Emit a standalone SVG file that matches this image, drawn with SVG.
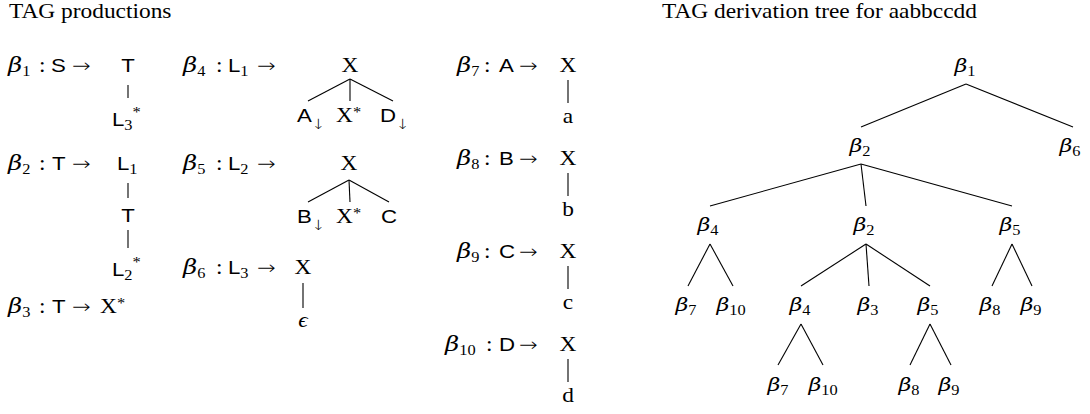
<svg xmlns="http://www.w3.org/2000/svg" width="1090" height="414" viewBox="0 0 1090 414">
<style>
text{fill:#000}
.t{font-family:"Liberation Serif","DejaVu Serif",serif;font-size:20px}
.s{font-family:"Liberation Sans",sans-serif;font-size:19px}
.b{font-family:"DejaVu Serif",serif;font-style:italic;font-size:19px}
.bl{font-family:"DejaVu Serif",serif;font-style:italic;font-size:21px}
.i{font-style:italic}
.sub{font-family:"Liberation Serif","DejaVu Serif",serif;font-size:14px;font-style:normal}
.sup{font-family:"Liberation Serif","DejaVu Serif",serif;font-size:14px;font-style:normal}
.da{font-family:"DejaVu Sans",sans-serif;font-size:14px;font-style:normal;font-weight:200}
.ar{font-family:"DejaVu Sans",sans-serif;font-size:19px;font-weight:200}
.m{text-anchor:middle}
#connectors line{stroke:#000;stroke-width:1.1}
</style>
<g id="titles">
<text class="t" transform="matrix(1.17 0 0 1 9 18)">TAG productions</text>
<text class="t" transform="matrix(1.17 0 0 1 662 18)">TAG derivation tree for aabbccdd</text>
</g>
<g id="connectors">
<line x1="128" y1="85" x2="128" y2="98"/>
<line x1="128" y1="183" x2="128" y2="198"/>
<line x1="128" y1="230" x2="128" y2="248"/>
<line x1="350" y1="79" x2="308" y2="101"/>
<line x1="350" y1="79" x2="350" y2="101"/>
<line x1="350" y1="79" x2="393" y2="101"/>
<line x1="349" y1="180" x2="308" y2="202"/>
<line x1="349" y1="180" x2="350" y2="202"/>
<line x1="349" y1="180" x2="389" y2="202"/>
<line x1="303" y1="283" x2="303" y2="308"/>
<line x1="568" y1="80" x2="568" y2="103"/>
<line x1="568" y1="173" x2="568" y2="196"/>
<line x1="568" y1="266" x2="568" y2="289"/>
<line x1="568" y1="359" x2="568" y2="382"/>
<line x1="966" y1="84" x2="861" y2="127"/>
<line x1="966" y1="84" x2="1073" y2="127"/>
<line x1="861" y1="164" x2="710" y2="206"/>
<line x1="861" y1="164" x2="866" y2="206"/>
<line x1="861" y1="164" x2="1012" y2="206"/>
<line x1="710" y1="244" x2="688" y2="286"/>
<line x1="710" y1="244" x2="733" y2="286"/>
<line x1="866" y1="244" x2="801" y2="286"/>
<line x1="866" y1="244" x2="869" y2="286"/>
<line x1="866" y1="244" x2="930" y2="286"/>
<line x1="1012" y1="244" x2="992" y2="286"/>
<line x1="1012" y1="244" x2="1032" y2="286"/>
<line x1="801" y1="324" x2="778" y2="365"/>
<line x1="801" y1="324" x2="823" y2="365"/>
<line x1="930" y1="324" x2="910" y2="365"/>
<line x1="930" y1="324" x2="951" y2="365"/>
</g>
<g id="p1">
<text class="bl" transform="matrix(1.17 0 0 1 8 72)">β<tspan class="sub" dy="4">1</tspan></text>
<text class="t" transform="matrix(1.17 0 0 1 39 72)">:</text>
<text class="s" transform="matrix(1.17 0 0 1 51 72)">S</text>
<text class="ar" transform="matrix(1.17 0 0 1 72 72)">→</text>
<text class="s m" transform="matrix(1.17 0 0 1 128 72)">T</text>
<text class="s" transform="matrix(1.17 0 0 1 112 126)">L<tspan class="sub" dy="4">3</tspan><tspan class="sup" dy="-13">*</tspan></text>
</g>
<g id="p2">
<text class="bl" transform="matrix(1.17 0 0 1 8 170)">β<tspan class="sub" dy="4">2</tspan></text>
<text class="t" transform="matrix(1.17 0 0 1 39 170)">:</text>
<text class="s" transform="matrix(1.17 0 0 1 52 170)">T</text>
<text class="ar" transform="matrix(1.17 0 0 1 72 170)">→</text>
<text class="s" transform="matrix(1.17 0 0 1 117 170)">L<tspan class="sub" dy="4">1</tspan></text>
<text class="s m" transform="matrix(1.17 0 0 1 128 222)">T</text>
<text class="s" transform="matrix(1.17 0 0 1 112 276)">L<tspan class="sub" dy="4">2</tspan><tspan class="sup" dy="-13">*</tspan></text>
</g>
<g id="p3">
<text class="bl" transform="matrix(1.17 0 0 1 8 313)">β<tspan class="sub" dy="4">3</tspan></text>
<text class="t" transform="matrix(1.17 0 0 1 39 313)">:</text>
<text class="s" transform="matrix(1.17 0 0 1 52 313)">T</text>
<text class="ar" transform="matrix(1.17 0 0 1 72 313)">→</text>
<text class="t" transform="matrix(1.17 0 0 1 100 313)">X<tspan class="sup" dy="-5">*</tspan></text>
</g>
<g id="p4">
<text class="bl" transform="matrix(1.17 0 0 1 183 72)">β<tspan class="sub" dy="4">4</tspan></text>
<text class="t" transform="matrix(1.17 0 0 1 216 72)">:</text>
<text class="s" transform="matrix(1.17 0 0 1 228 72)">L<tspan class="sub" dy="4">1</tspan></text>
<text class="ar" transform="matrix(1.17 0 0 1 257 72)">→</text>
<text class="t m" transform="matrix(1.17 0 0 1 350 72)">X</text>
<text class="s" transform="matrix(1.17 0 0 1 297 122)">A<tspan class="da" dy="7">↓</tspan></text>
<text class="t" transform="matrix(1.17 0 0 1 336 122)">X<tspan class="sup" dy="-5">*</tspan></text>
<text class="s" transform="matrix(1.17 0 0 1 380 122)">D<tspan class="da" dy="7">↓</tspan></text>
</g>
<g id="p5">
<text class="bl" transform="matrix(1.17 0 0 1 183 170)">β<tspan class="sub" dy="4">5</tspan></text>
<text class="t" transform="matrix(1.17 0 0 1 216 170)">:</text>
<text class="s" transform="matrix(1.17 0 0 1 228 170)">L<tspan class="sub" dy="4">2</tspan></text>
<text class="ar" transform="matrix(1.17 0 0 1 257 170)">→</text>
<text class="t m" transform="matrix(1.17 0 0 1 349 170)">X</text>
<text class="s" transform="matrix(1.17 0 0 1 297 223)">B<tspan class="da" dy="7">↓</tspan></text>
<text class="t" transform="matrix(1.17 0 0 1 336 223)">X<tspan class="sup" dy="-5">*</tspan></text>
<text class="s" transform="matrix(1.17 0 0 1 381 223)">C</text>
</g>
<g id="p6">
<text class="bl" transform="matrix(1.17 0 0 1 183 274)">β<tspan class="sub" dy="4">6</tspan></text>
<text class="t" transform="matrix(1.17 0 0 1 216 274)">:</text>
<text class="s" transform="matrix(1.17 0 0 1 228 274)">L<tspan class="sub" dy="4">3</tspan></text>
<text class="ar" transform="matrix(1.17 0 0 1 257 274)">→</text>
<text class="t m" transform="matrix(1.17 0 0 1 303 274)">X</text>
<text class="t i m" transform="matrix(1.17 0 0 1 303 327)">ϵ</text>
</g>
<g id="p7">
<text class="bl" transform="matrix(1.17 0 0 1 457 72)">β<tspan class="sub" dy="4">7</tspan></text>
<text class="t" transform="matrix(1.17 0 0 1 484 72)">:</text>
<text class="s" transform="matrix(1.17 0 0 1 499 72)">A</text>
<text class="ar" transform="matrix(1.17 0 0 1 519 72)">→</text>
<text class="t m" transform="matrix(1.17 0 0 1 568 72)">X</text>
<text class="t m" transform="matrix(1.17 0 0 1 568 123)">a</text>
</g>
<g id="p8">
<text class="bl" transform="matrix(1.17 0 0 1 457 165)">β<tspan class="sub" dy="4">8</tspan></text>
<text class="t" transform="matrix(1.17 0 0 1 484 165)">:</text>
<text class="s" transform="matrix(1.17 0 0 1 499 165)">B</text>
<text class="ar" transform="matrix(1.17 0 0 1 519 165)">→</text>
<text class="t m" transform="matrix(1.17 0 0 1 568 165)">X</text>
<text class="t m" transform="matrix(1.17 0 0 1 568 216)">b</text>
</g>
<g id="p9">
<text class="bl" transform="matrix(1.17 0 0 1 457 258)">β<tspan class="sub" dy="4">9</tspan></text>
<text class="t" transform="matrix(1.17 0 0 1 484 258)">:</text>
<text class="s" transform="matrix(1.17 0 0 1 499 258)">C</text>
<text class="ar" transform="matrix(1.17 0 0 1 519 258)">→</text>
<text class="t m" transform="matrix(1.17 0 0 1 568 258)">X</text>
<text class="t m" transform="matrix(1.17 0 0 1 568 309)">c</text>
</g>
<g id="p10">
<text class="bl" transform="matrix(1.17 0 0 1 445 351)">β<tspan class="sub" dy="4">10</tspan></text>
<text class="t" transform="matrix(1.17 0 0 1 486 351)">:</text>
<text class="s" transform="matrix(1.17 0 0 1 499 351)">D</text>
<text class="ar" transform="matrix(1.17 0 0 1 519 351)">→</text>
<text class="t m" transform="matrix(1.17 0 0 1 568 351)">X</text>
<text class="t m" transform="matrix(1.17 0 0 1 568 402)">d</text>
</g>
<g id="n-b1"><text class="b m" transform="matrix(1.17 0 0 1 965 72)">β<tspan class="sub" dy="4">1</tspan></text></g>
<g id="n-b2"><text class="b m" transform="matrix(1.17 0 0 1 860 152)">β<tspan class="sub" dy="4">2</tspan></text></g>
<g id="n-b6"><text class="b m" transform="matrix(1.17 0 0 1 1070 152)">β<tspan class="sub" dy="4">6</tspan></text></g>
<g id="n-b4a"><text class="b m" transform="matrix(1.17 0 0 1 708 231)">β<tspan class="sub" dy="4">4</tspan></text></g>
<g id="n-b2b"><text class="b m" transform="matrix(1.17 0 0 1 864 231)">β<tspan class="sub" dy="4">2</tspan></text></g>
<g id="n-b5a"><text class="b m" transform="matrix(1.17 0 0 1 1010 231)">β<tspan class="sub" dy="4">5</tspan></text></g>
<g id="n-b7a"><text class="b m" transform="matrix(1.17 0 0 1 686 311)">β<tspan class="sub" dy="4">7</tspan></text></g>
<g id="n-b10a"><text class="b m" transform="matrix(1.17 0 0 1 731 311)">β<tspan class="sub" dy="4">10</tspan></text></g>
<g id="n-b4b"><text class="b m" transform="matrix(1.17 0 0 1 800 311)">β<tspan class="sub" dy="4">4</tspan></text></g>
<g id="n-b3"><text class="b m" transform="matrix(1.17 0 0 1 868 311)">β<tspan class="sub" dy="4">3</tspan></text></g>
<g id="n-b5b"><text class="b m" transform="matrix(1.17 0 0 1 928 311)">β<tspan class="sub" dy="4">5</tspan></text></g>
<g id="n-b8a"><text class="b m" transform="matrix(1.17 0 0 1 990 311)">β<tspan class="sub" dy="4">8</tspan></text></g>
<g id="n-b9a"><text class="b m" transform="matrix(1.17 0 0 1 1031 311)">β<tspan class="sub" dy="4">9</tspan></text></g>
<g id="n-b7b"><text class="b m" transform="matrix(1.17 0 0 1 778 391)">β<tspan class="sub" dy="4">7</tspan></text></g>
<g id="n-b10b"><text class="b m" transform="matrix(1.17 0 0 1 823 391)">β<tspan class="sub" dy="4">10</tspan></text></g>
<g id="n-b8b"><text class="b m" transform="matrix(1.17 0 0 1 909 391)">β<tspan class="sub" dy="4">8</tspan></text></g>
<g id="n-b9b"><text class="b m" transform="matrix(1.17 0 0 1 949 391)">β<tspan class="sub" dy="4">9</tspan></text></g>
</svg>
